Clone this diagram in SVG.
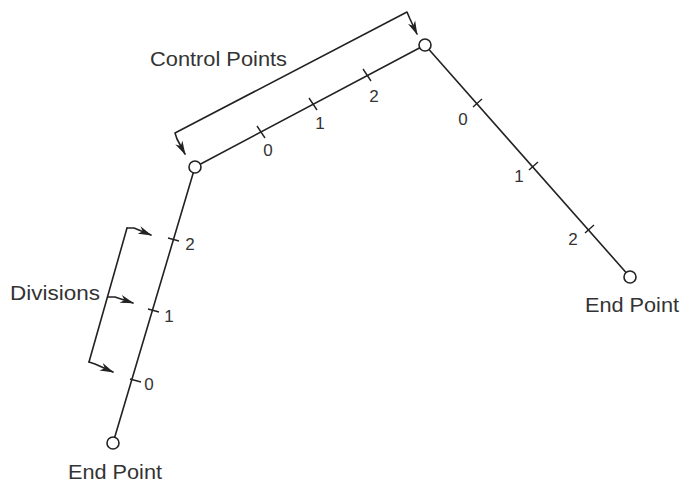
<svg xmlns="http://www.w3.org/2000/svg" width="681" height="483" viewBox="0 0 681 483">
<defs>
<style>
.ln{stroke:#222;stroke-width:1.6;fill:none;stroke-linecap:round;stroke-linejoin:round}
.tk{stroke:#222;stroke-width:1.4}
.pt{fill:#fff;stroke:#222;stroke-width:1.6}
.lbl{font-family:"Liberation Sans",Arial,sans-serif;font-size:20px;fill:#333}
.num{font-family:"Liberation Sans",Arial,sans-serif;font-size:17px;fill:#333;text-anchor:middle}
</style>
<marker id="ah" viewBox="0 0 14 9" refX="13" refY="4.5" markerWidth="14" markerHeight="9" markerUnits="userSpaceOnUse" orient="auto-start-reverse">
<path d="M0,0.5 L14,4.5 L0,8.5 L4,4.5 Z" fill="#222"/>
</marker>
</defs>
<rect width="681" height="483" fill="#fff"/>
<g id="connectors">
<path class="ln" d="M113,443 L195,167"/>
<path class="ln" d="M195,167 L425,45"/>
<path class="ln" d="M425,45 L630,277"/>
<path class="tk" d="M257,126 L265,138 M309,98 L317,110 M363,69 L371,81"/>
<path class="tk" d="M473,107 L482,99 M529,170 L538,162 M585,233 L594,225"/>
<path class="tk" d="M168,238 L179,241 M148,309 L159,312 M130,379 L141,382"/>
<path class="ln" d="M185,154 L177,139 L175,133 L407,12 L410,19 L417,34" marker-start="url(#ah)" marker-end="url(#ah)"/>
<path class="ln" d="M127,228 L89,362"/>
<path class="ln" d="M127,228 L134,228 L151,235" marker-end="url(#ah)"/>
<path class="ln" d="M108,297 L115,297 L133,303" marker-end="url(#ah)"/>
<path class="ln" d="M89,362 L95,364 L113,372" marker-end="url(#ah)"/>
</g>
<g id="cp1"><circle class="pt" cx="195" cy="167" r="6"/></g>
<g id="cp2"><circle class="pt" cx="425" cy="45" r="6"/></g>
<g id="end-left"><circle class="pt" cx="113" cy="443" r="6"/>
<text class="lbl" x="68" y="479" textLength="94" lengthAdjust="spacingAndGlyphs">End Point</text></g>
<g id="end-right"><circle class="pt" cx="630" cy="277" r="6"/>
<text class="lbl" x="585" y="312" textLength="94" lengthAdjust="spacingAndGlyphs">End Point</text></g>
<g id="control-points-label"><text class="lbl" x="150" y="66" textLength="137" lengthAdjust="spacingAndGlyphs">Control Points</text></g>
<g id="divisions-label"><text class="lbl" x="10" y="300" textLength="90" lengthAdjust="spacingAndGlyphs">Divisions</text></g>
<g id="numbers">
<text class="num" x="268" y="156">0</text>
<text class="num" x="320" y="129">1</text>
<text class="num" x="374" y="102">2</text>
<text class="num" x="463" y="125">0</text>
<text class="num" x="519" y="182">1</text>
<text class="num" x="573" y="245">2</text>
<text class="num" x="190" y="250">2</text>
<text class="num" x="169" y="322">1</text>
<text class="num" x="149" y="390">0</text>
</g>
</svg>
